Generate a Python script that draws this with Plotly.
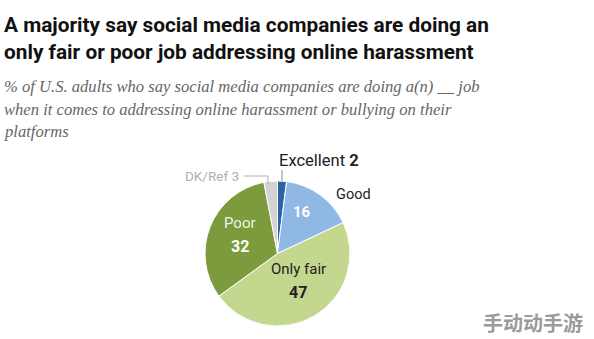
import plotly.graph_objects as go

labels = ["Excellent", "Good", "Only fair", "Poor", "DK/Ref"]
values = [2, 16, 47, 32, 3]
colors = ["#2b62a8", "#8fb9e4", "#c3d78e", "#7d9b3c", "#d3d3d3"]

title_lines = ["A majority say social media companies are doing an",
               "only fair or poor job addressing online harassment"]
subtitle_lines = ["% of U.S. adults who say social media companies are doing a(n) __ job",
                  "when it comes to addressing online harassment or bullying on their",
                  "platforms"]
watermark = "手动动手游"

W, H = 594, 339
fig = go.Figure()
fig.add_trace(go.Pie(
    labels=labels, values=values, sort=False, direction="clockwise", rotation=0,
    marker=dict(colors=colors, line=dict(color="white", width=1)),
    textinfo="none", hoverinfo="label+value", showlegend=False,
    domain=dict(x=[205 / W, 350 / W], y=[1 - 326 / H, 1 - 181 / H]),
))

def px(x):
    return x / W

def py(y):
    return 1 - y / H

ann = []
def add(text, x, y, size, color, family="Roboto", xanchor="left", yanchor="middle"):
    ann.append(dict(text=text, x=px(x), y=py(y), xref="paper", yref="paper",
                    showarrow=False, xanchor=xanchor, yanchor=yanchor,
                    font=dict(size=size, color=color, family=family)))

for i, t in enumerate(title_lines):
    add("<b>" + t + "</b>", 2, 25 + 27 * i, 20.8, "#111", family="Roboto")
for i, t in enumerate(subtitle_lines):
    add("<i>" + t + "</i>", 2, 87 + 22.5 * i, 16.6, "#666666", family="Liberation Serif")

# slice labels
add(f"{labels[0]} <b>{values[0]}</b>", 277, 161, 16.5, "#222")
add(labels[1], 334, 194, 14.5, "#222")
add(f"<b>{values[1]}</b>", 302, 212, 15, "white", xanchor="center")
add(labels[2], 298, 269, 15, "#222", xanchor="center")
add(f"<b>{values[2]}</b>", 298, 292, 16, "#222", xanchor="center")
add(labels[3], 240, 223, 15, "#eef3e0", xanchor="center")
add(f"<b>{values[3]}</b>", 240, 246, 16, "white", xanchor="center")
add(f"{labels[4]} {values[4]}", 241, 176, 13.5, "#b0b0b0", xanchor="right")
add("<b>" + watermark + "</b>", 533, 322, 20, "#9a9a9a", family="Noto Sans CJK SC", xanchor="center")

fig.update_layout(
    width=W, height=H, margin=dict(l=0, r=0, t=0, b=0),
    paper_bgcolor="white", plot_bgcolor="white",
    annotations=ann,
    shapes=[
        dict(type="line", xref="paper", yref="paper", x0=px(244), y0=py(176), x1=px(268), y1=py(176),
             line=dict(color="#b0b0b0", width=1)),
        dict(type="line", xref="paper", yref="paper", x0=px(268), y0=py(176), x1=px(268), y1=py(184),
             line=dict(color="#b0b0b0", width=1)),
        dict(type="line", xref="paper", yref="paper", x0=px(282), y0=py(170), x1=px(282), y1=py(181),
             line=dict(color="#888", width=1)),
    ],
)
fig.write_html("out.html")
